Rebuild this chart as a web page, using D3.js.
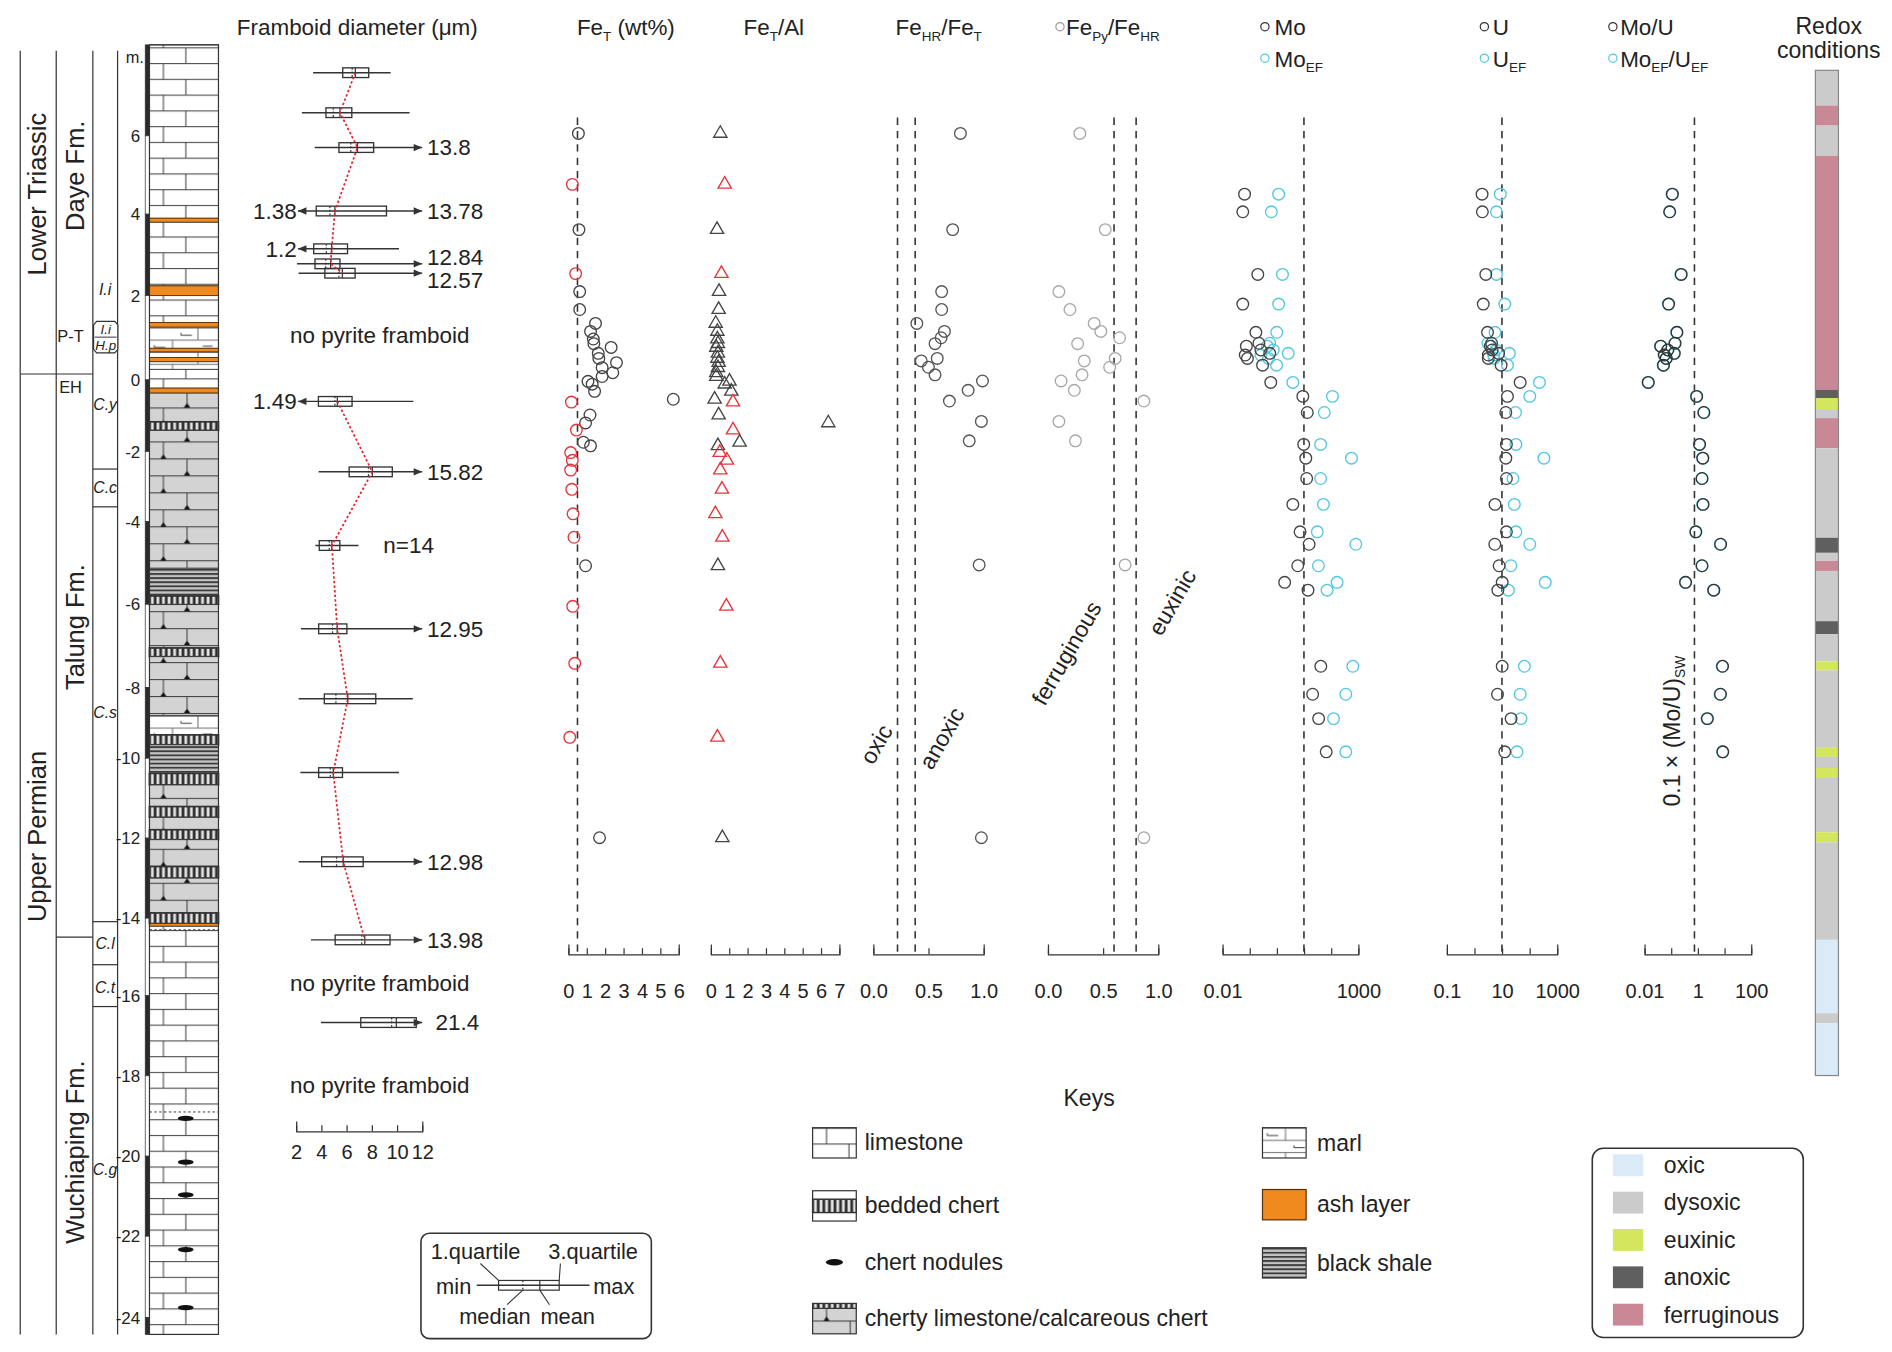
<!DOCTYPE html>
<html>
<head>
<meta charset="utf-8">
<script src="https://cdn.jsdelivr.net/npm/d3@7"></script>
<style>
body { margin: 0; background: #fff; }
svg { display: block; font-family: "Liberation Sans", Arial, sans-serif; }
</style>
</head>
<body>
<svg id="chart" width="1892" height="1352" viewBox="0 0 1560 1115"></svg>
<script>
// ---- depth column ----
var depthStops = [8.32, 6, 4, 2, 0, -2, -4, -6, -8, -10, -12, -14, -16, -18, -20, -22, -24, -24.42];
var depthTicks = [6, 4, 2, 0, -2, -4, -6, -8, -10, -12, -14, -16, -18, -20, -22, -24];

var lithology = [
    [8.32, 3.90, 'limestone'], [3.90, 3.80, 'ash'], [3.80, 2.24, 'limestone'], [2.24, 2.00, 'ash'],
    [2.00, 1.36, 'limestone'], [1.36, 1.25, 'ash'], [1.25, 0.75, 'marl'], [0.75, 0.66, 'ash'],
    [0.66, 0.53, 'marl'], [0.53, 0.43, 'ash'], [0.43, 0.25, 'marl'], [0.25, -0.23, 'limestone'],
    [-0.23, -0.37, 'ash'], [-0.37, -1.17, 'cherty'], [-1.17, -1.41, 'chert'], [-1.41, -5.13, 'cherty'],
    [-5.13, -5.80, 'shale'], [-5.80, -6.01, 'chert'], [-6.01, -7.05, 'cherty'], [-7.05, -7.26, 'chert'],
    [-7.26, -8.80, 'cherty'], [-8.80, -9.34, 'marl'], [-9.34, -9.62, 'chert'], [-9.62, -10.38, 'shale'],
    [-10.38, -10.67, 'chert'], [-10.67, -11.21, 'cherty'], [-11.21, -11.48, 'chert'], [-11.48, -11.79, 'cherty'],
    [-11.79, -12.04, 'chert'], [-12.04, -12.71, 'cherty'], [-12.71, -13.00, 'chert'], [-13.00, -13.87, 'cherty'],
    [-13.87, -14.14, 'chert'], [-14.14, -14.21, 'ash'], [-14.21, -24.42, 'limestone']
];
var noduleDepth = [-19.06, -20.15, -20.97, -22.33, -23.76];
var thinLayerDepth = [-14.30, -18.90];

var eraNames = ['Lower Triassic', 'Upper Permian'];
var eraMid = [4.51, -11.96];
var eraBreak = 0.14;
var fmNames = ['Daye Fm.', 'Talung Fm.', 'Wuchiaping Fm.'];
var fmMid = [4.98, -6.55, -19.9];
var fmBreak = -14.49;
var zoneNames = ['I.i', 'C.y', 'C.c', 'C.s', 'C.l', 'C.t', 'C.g'];
var zoneMid = [2.14, -0.70, -3.03, -8.72, -14.65, -15.80, -20.33];
var zoneBreaks = [-2.50, -3.58, -14.09, -15.20, -16.27];

// ---- framboid diameter (um) ----
var frDepth  = [7.61, 6.59, 5.70, 4.08, 3.15, 2.78, 2.55, -0.60, -2.58, -4.58, -6.59, -8.32, -10.36, -12.59, -14.56, -16.67];
var frMin    = [3.35, 2.46, 3.48, 1.38, 1.2, 2.07, 2.2, 1.49, 3.79, 3.53, 2.39, 2.21, 2.34, 2.21, 3.18, 3.97];
var frQ1     = [5.7, 4.37, 5.4, 3.6, 3.4, 3.5, 4.28, 3.77, 6.21, 3.84, 3.79, 4.24, 3.79, 4.03, 5.1, 7.13];
var frMedian = [6.45, 4.95, 6.34, 4.68, 4.4, 4.35, 5.4, 5.08, 7.74, 4.63, 4.89, 5.16, 4.71, 5.21, 7.21, 9.58];
var frMean   = [6.7, 5.48, 6.87, 5.08, 4.82, 4.74, 5.67, 5.27, 8.05, 4.84, 5.26, 6.1, 4.95, 5.74, 7.45, 9.95];
var frQ3     = [7.76, 6.42, 8.15, 9.17, 6.08, 5.48, 6.68, 6.44, 9.63, 5.47, 6.03, 8.32, 5.68, 7.32, 9.45, 11.53];
var frMax    = [9.5, 11.0, 13.8, 13.78, 10.16, 12.84, 12.57, 11.3, 15.82, 6.95, 12.95, 11.26, 10.16, 12.98, 13.98, 21.4];
var frTrend  = [1, 1, 1, 1, 1, 1, 1, 2, 2, 2, 2, 2, 2, 2, 2, 0];
var noFramboidDepth = [1.07, -15.68, -18.23];

// ---- FeT and FeT/Al ----
var feDepth = [6.06, 4.76, 3.62, 2.54, 2.10, 1.67, 1.34, 1.15, 0.97, 0.86, 0.77, 0.63, 0.51, 0.41, 0.29, 0.17, 0.08, -0.04, -0.12, -0.32,
    -0.54, -0.62, -0.98, -1.20, -1.40, -1.74, -1.84, -2.03, -2.25, -2.53, -3.08, -3.78, -4.38, -5.07, -6.05, -7.42, -9.41, -11.99];
var feT = [0.55, 0.22, 0.58, 0.40, 0.62, 0.62, 1.48, 1.21, 1.36, 1.39, 2.33, 1.63, 1.66, 2.62, 1.84, 2.42, 1.84, 1.07, 1.30, 1.43,
    5.71, 0.17, 1.18, 0.94, 0.44, 0.82, 1.21, 0.13, 0.22, 0.13, 0.19, 0.26, 0.31, 0.94, 0.24, 0.35, 0.08, 1.70];
var feTAl = [0.52, 0.76, 0.34, 0.58, 0.45, 0.43, 0.27, 0.36, 0.36, 0.39, 0.30, 0.39, 0.36, 0.43, 0.39, 0.30, 0.30, 1.02, 0.76, 1.12,
    0.21, 1.21, 0.43, 6.40, 1.21, 1.57, 0.39, 0.49, 0.88, 0.52, 0.61, 0.25, 0.63, 0.39, 0.85, 0.52, 0.36, 0.63];

// ---- iron speciation ----
var ironDepth = [6.06, 3.62, 2.10, 1.67, 1.34, 1.15, 1.00, 0.86, 0.51, 0.45, 0.30, 0.12, -0.03, -0.29, -0.59, -1.16, -1.70, -5.05, -11.99];
var feHR = [0.79, 0.72, 0.62, 0.62, 0.395, 0.645, 0.615, 0.56, 0.58, 0.435, 0.50, 0.56, 0.99, 0.86, 0.69, 0.98, 0.87, 0.96, 0.98];
var fePy = [0.29, 0.52, 0.10, 0.20, 0.42, 0.48, 0.65, 0.27, 0.61, 0.33, 0.56, 0.31, 0.12, 0.24, 0.87, 0.10, 0.25, 0.70, 0.87];

// ---- trace metals ----
var traceDepth = [4.51, 4.06, 2.52, 1.80, 1.13, 0.87, 0.80, 0.71, 0.63, 0.59, 0.51, 0.35, -0.07, -0.46, -0.91, -1.80, -2.19, -2.77,
    -3.51, -4.25, -4.55, -5.07, -5.47, -5.66, -7.49, -8.19, -8.88, -9.82];
var mo = [0.065, 0.056, 0.20, 0.056, 0.17, 0.22, 0.076, 0.26, 0.55, 0.069, 0.083, 0.30, 0.60, 9.1, 13.3, 9.8, 11.7, 12.6,
    3.9, 7.2, 15.5, 5.9, 1.95, 14.1, 41.7, 20.9, 34.7, 66];
var moEF = [1.17, 0.63, 1.62, 1.17, 1.0, 0.55, 0.45, 0.74, 2.63, 0.26, 0.5, 0.98, 3.9, 112, 56, 41, 562, 41,
    52, 31, 813, 34, 166, 71, 631, 347, 123, 347];
var u = [1.9, 1.95, 2.6, 2.1, 3.0, 4.2, 3.8, 4.4, 7.6, 3.2, 3.2, 9.3, 45.7, 15.8, 13.8, 14.5, 13.8, 14.5,
    5.6, 14.5, 5.5, 7.9, 10.2, 7.1, 10.2, 6.9, 21.4, 12.6];
var uEF = [8.7, 6.3, 6.3, 12.6, 5.6, 3.1, 4.0, 6.0, 18.6, 5.0, 5.2, 15.8, 229, 102, 31, 32, 331, 25,
    28, 32, 102, 21, 372, 17, 65, 46, 49, 35];
var moU = [0.112, 0.089, 0.24, 0.081, 0.166, 0.141, 0.041, 0.076, 0.132, 0.056, 0.066, 0.052, 0.014, 0.91, 1.7, 1.17, 1.55, 1.45,
    1.58, 0.85, 7.2, 1.45, 0.35, 4.0, 8.5, 7.1, 2.3, 8.7];
var moUEF = [0.108, 0.086, 0.23, 0.078, 0.16, 0.136, 0.040, 0.073, 0.127, 0.054, 0.064, 0.050, 0.0135, 0.88, 1.64, 1.13, 1.5, 1.4,
    1.52, 0.82, 6.9, 1.4, 0.34, 3.85, 8.2, 6.85, 2.2, 8.4];

// ---- redox bar (percent of bar height, top to bottom) ----
var redoxStart = [0, 3.5, 5.5, 8.5, 31.8, 32.6, 33.7, 34.6, 37.6, 46.5, 48.0, 48.8, 49.8, 54.8, 56.1, 58.8, 59.7,
    67.4, 68.3, 69.4, 70.4, 75.8, 76.8, 86.5, 93.8, 94.8];
var redoxType = ['dysoxic', 'ferruginous', 'dysoxic', 'ferruginous', 'anoxic', 'euxinic', 'dysoxic', 'ferruginous', 'dysoxic',
    'anoxic', 'dysoxic', 'ferruginous', 'dysoxic', 'anoxic', 'dysoxic', 'euxinic', 'dysoxic', 'euxinic', 'dysoxic', 'euxinic',
    'dysoxic', 'euxinic', 'dysoxic', 'oxic', 'dysoxic', 'oxic'];
var redoxNames = ['oxic', 'dysoxic', 'euxinic', 'anoxic', 'ferruginous'];
var redoxColors = ['#dbeaf7', '#cbcbcb', '#d3e65e', '#5f5f5f', '#c88896'];

var keyLeft = ['limestone', 'bedded chert', 'chert nodules', 'cherty limestone/calcareous chert'];
var keyRight = ['marl', 'ash layer', 'black shale'];

var svg = d3.select('#chart');
var ink = '#333', txt = '#222', red = '#e5343a', cyan = '#52c8e0';
var colX = 123.1, colW = 56.9;
var headSize = 18.5, labelSize = 18.5;

svg.append('rect').attr('width', 1560).attr('height', 1115).attr('fill', '#fff');

var y = d3.scaleLinear().domain(depthStops)
    .range([37, 112, 176.6, 243.8, 313.3, 372.4, 430.1, 498.3, 567, 625.3, 691.2, 757.2, 821.2, 887.2, 953.5, 1019.5, 1086.5, 1100.5]);
var redoxColor = d3.scaleOrdinal(redoxNames, redoxColors);

addPatterns();
drawColumn();
drawFramboids();
drawGeochem();
drawRedox();
drawKeys();

function pat(defs, id, w, h, bg) {
    var p = defs.append('pattern').attr('id', id).attr('patternUnits', 'userSpaceOnUse')
        .attr('x', colX).attr('y', 0).attr('width', w).attr('height', h);
    p.append('rect').attr('width', w).attr('height', h).attr('fill', bg);
    return p.append('g').attr('stroke', ink).attr('stroke-width', 0.8).attr('fill', 'none');
}

function addPatterns() {
    var defs = svg.append('defs');
    var g = pat(defs, 'limestone', colW, 26, '#fff');
    g.append('path').attr('d', 'M0,0.5H57M0,13.5H57M11.5,0.5V13.5M30,13.5V26');

    g = pat(defs, 'cherty', colW, 28, '#d3d3d3');
    g.append('path').attr('d', 'M0,0.5H57M0,14.5H57M11.5,0.5V14.5M31,14.5V28');
    g.append('path').attr('d', 'M8.9,14.5L11.5,10.8L14.1,14.5ZM28.4,28L31,24.3L33.6,28Z').attr('fill', '#111').attr('stroke', 'none');

    g = pat(defs, 'chert', 4.6, 10, '#2e2e2e');
    g.append('rect').attr('x', 1.2).attr('y', -1).attr('width', 2.3).attr('height', 12).attr('fill', '#e4e4e4').attr('stroke', 'none');

    g = pat(defs, 'shale', 10, 3.4, '#c4c4c4');
    g.append('rect').attr('width', 10).attr('height', 1.5).attr('fill', '#3c3c3c').attr('stroke', 'none');

    g = pat(defs, 'marl', colW, 20, '#fff');
    g.append('path').attr('d', 'M0,0.5H57M0,10.5H57M19,0.5V10.5M40,10.5V20').attr('stroke', '#666');
    g.append('path').attr('d', 'M4,6.5H13M4,6.5V4.6M26,16.5H35M26,16.5V14.6M44,5.5H52');
}

function lithFill(t) {
    return t === 'ash' ? '#f08a1e' : 'url(#' + t + ')';
}

function drawColumn() {
    var g = svg.append('g');
    // unit columns
    [16.5, 46.2, 76.4, 96.8].forEach(function (x) {
        g.append('line').attr('x1', x).attr('x2', x).attr('y1', 41.8).attr('y2', 1100.5).attr('stroke', ink).attr('stroke-width', 1);
    });
    g.append('line').attr('x1', 16.5).attr('x2', 76.4).attr('y1', y(eraBreak)).attr('y2', y(eraBreak)).attr('stroke', ink);
    g.append('line').attr('x1', 46.2).attr('x2', 76.4).attr('y1', y(fmBreak)).attr('y2', y(fmBreak)).attr('stroke', ink);
    zoneBreaks.forEach(function (d) {
        g.append('line').attr('x1', 76.4).attr('x2', 96.8).attr('y1', y(d)).attr('y2', y(d)).attr('stroke', ink);
    });

    eraNames.forEach(function (n, i) {
        g.append('text').attr('transform', 'translate(38,' + y(eraMid[i]) + ') rotate(-90)')
            .attr('text-anchor', 'middle').attr('font-size', 21).attr('fill', txt).text(n);
    });
    fmNames.forEach(function (n, i) {
        g.append('text').attr('transform', 'translate(69.5,' + y(fmMid[i]) + ') rotate(-90)')
            .attr('text-anchor', 'middle').attr('font-size', 21).attr('fill', txt).text(n);
    });
    g.append('text').attr('x', 58).attr('y', y(1.04) + 5).attr('text-anchor', 'middle').attr('font-size', 13.5).attr('fill', txt).text('P-T');
    g.append('text').attr('x', 58).attr('y', y(-0.19) + 5).attr('text-anchor', 'middle').attr('font-size', 13.5).attr('fill', txt).text('EH');

    zoneNames.forEach(function (n, i) {
        g.append('text').attr('x', 86.5).attr('y', y(zoneMid[i]) + 4.5).attr('text-anchor', 'middle')
            .attr('font-size', 13).attr('font-style', 'italic').attr('fill', txt).text(n);
    });
    // I.i / H.p transition box
    var b0 = y(1.39), b1 = y(0.64);
    g.append('path').attr('d', 'M79.5,' + b0 + 'H94.5L97,' + (b0 + 3) + 'V' + (b1 - 3) + 'L94.5,' + b1 + 'H79.5L77,' + (b1 - 3) + 'V' + (b0 + 3) + 'Z')
        .attr('fill', '#fff').attr('stroke', ink);
    g.append('line').attr('x1', 78).attr('x2', 96).attr('y1', (b0 + b1) / 2).attr('y2', (b0 + b1) / 2).attr('stroke', ink).attr('stroke-width', 0.8);
    g.append('text').attr('x', 87).attr('y', b0 + 10.5).attr('text-anchor', 'middle').attr('font-size', 11).attr('font-style', 'italic').attr('fill', txt).text('I.i');
    g.append('text').attr('x', 87).attr('y', b1 - 2.5).attr('text-anchor', 'middle').attr('font-size', 11).attr('font-style', 'italic').attr('fill', txt).text('H.p');

    // depth ticks
    g.append('text').attr('x', 111).attr('y', 52).attr('text-anchor', 'middle').attr('font-size', 13.5).attr('fill', txt).text('m.');
    g.selectAll('.dl').data(depthTicks).enter().append('text')
        .attr('x', 115.5).attr('y', function (d) { return y(d) + 5; })
        .attr('text-anchor', 'end').attr('font-size', 14).attr('fill', txt).text(function (d) { return d; });
    // black / white scale bar
    g.selectAll('.bar').data(depthStops.slice(0, -1)).enter().append('rect')
        .attr('x', 119.6).attr('width', 3.5)
        .attr('y', function (d) { return y(d); })
        .attr('height', function (d, i) { return y(depthStops[i + 1]) - y(d); })
        .attr('fill', function (d, i) { return i % 2 === 0 ? '#2a2a2a' : '#fff'; })
        .attr('stroke', ink).attr('stroke-width', 0.6);

    // lithology
    g.selectAll('.lith').data(lithology).enter().append('rect')
        .attr('x', colX).attr('width', colW)
        .attr('y', function (d) { return y(d[0]); })
        .attr('height', function (d) { return y(d[1]) - y(d[0]); })
        .attr('fill', function (d) { return lithFill(d[2]); })
        .attr('stroke', function (d) { return d[2] === 'ash' ? '#5a3000' : ink; })
        .attr('stroke-width', function (d) { return d[2] === 'chert' ? 1.4 : 0.7; });
    thinLayerDepth.forEach(function (d) {
        g.append('line').attr('x1', colX).attr('x2', colX + colW).attr('y1', y(d)).attr('y2', y(d))
            .attr('stroke', ink).attr('stroke-width', 0.8).attr('stroke-dasharray', '2,2');
    });
    g.selectAll('.nod').data(noduleDepth).enter().append('ellipse')
        .attr('cx', 153).attr('cy', function (d) { return y(d); }).attr('rx', 6.5).attr('ry', 2.2).attr('fill', '#111');
    g.append('rect').attr('x', colX).attr('y', y(depthStops[0])).attr('width', colW)
        .attr('height', y(-24.42) - y(depthStops[0])).attr('fill', 'none').attr('stroke', ink).attr('stroke-width', 1);
}

function axisAt(scale, yy, ticks, labels, fmt, pad) {
    var g = svg.append('g').attr('transform', 'translate(0,' + yy + ')')
        .call(d3.axisBottom(scale).tickValues(ticks).tickSizeInner(-5).tickSizeOuter(-8).tickPadding(pad)
            .tickFormat(function (d) { return labels.indexOf(d) >= 0 ? fmt(d) : ''; }));
    g.selectAll('path,line').attr('stroke', ink);
    g.selectAll('text').attr('font-size', 16.5).attr('font-family', '"Liberation Sans", Arial, sans-serif').attr('fill', txt);
    return g;
}

// spread label positions that would touch (e.g. 12.84 / 12.57)
function spread(ys, gap) {
    var out = ys.slice();
    for (var i = 1; i < out.length; i++) {
        if (out[i] == null || out[i - 1] == null) continue;
        var d = out[i] - out[i - 1];
        if (d < gap) {
            var s = (gap - d) / 2;
            out[i - 1] -= s;
            out[i] += s;
        }
    }
    return out;
}

function drawFramboids() {
    var x = d3.scaleLinear([2, 12], [244, 348]);
    var g = svg.append('g');
    g.append('text').attr('x', 294.5).attr('y', 29).attr('text-anchor', 'middle').attr('font-size', headSize).attr('fill', txt)
        .text('Framboid diameter (\u03bcm)');

    var rightY = spread(frDepth.map(function (d, i) { return frMax[i] > 12 ? y(d) : null; }), 19);

    frDepth.forEach(function (d, i) {
        var cy = y(d);
        var lo = frMin[i] < 2 ? x(2.15) : x(frMin[i]);
        var hi = frMax[i] > 12 ? x(12) : x(frMax[i]);
        g.append('line').attr('x1', lo).attr('x2', hi).attr('y1', cy).attr('y2', cy).attr('stroke', ink).attr('stroke-width', 1.2);
        g.append('rect').attr('x', x(frQ1[i])).attr('y', cy - 4).attr('width', x(frQ3[i]) - x(frQ1[i])).attr('height', 8)
            .attr('fill', 'none').attr('stroke', ink).attr('stroke-width', 1.1);
        g.append('line').attr('x1', x(frMedian[i])).attr('x2', x(frMedian[i])).attr('y1', cy - 4).attr('y2', cy + 4)
            .attr('stroke', ink).attr('stroke-dasharray', '1.5,1.5');
        g.append('line').attr('x1', x(frMean[i])).attr('x2', x(frMean[i])).attr('y1', cy - 4).attr('y2', cy + 4).attr('stroke', ink);
        if (frMax[i] > 12) {
            g.append('path').attr('d', 'M' + hi + ',' + cy + 'l-7,-3v6z').attr('fill', ink);
            g.append('text').attr('x', hi + (frMax[i] > 20 ? 11 : 4)).attr('y', rightY[i] + 6.5)
                .attr('font-size', labelSize).attr('fill', txt).text(frMax[i]);
        }
        if (frMin[i] < 2) {
            g.append('path').attr('d', 'M' + lo + ',' + cy + 'l7,-3v6z').attr('fill', ink);
            g.append('text').attr('x', lo - 1).attr('y', cy + 6.5).attr('text-anchor', 'end').attr('font-size', labelSize).attr('fill', txt).text(frMin[i]);
        }
    });

    // mean trend lines
    [1, 2].forEach(function (s) {
        var pts = frDepth.map(function (d, i) { return [x(frMean[i]), y(d), frTrend[i]]; }).filter(function (p) { return p[2] === s; });
        g.append('path').attr('d', d3.line()(pts.map(function (p) { return [p[0], p[1]]; })))
            .attr('fill', 'none').attr('stroke', '#e3232b').attr('stroke-width', 1.4).attr('stroke-dasharray', '2,1.8');
    });

    g.append('text').attr('x', 316).attr('y', y(-4.58) + 6.5).attr('font-size', labelSize).attr('fill', txt).text('n=14');
    noFramboidDepth.forEach(function (d) {
        g.append('text').attr('x', 313).attr('y', y(d) + 6.5).attr('text-anchor', 'middle').attr('font-size', labelSize).attr('fill', txt)
            .text('no pyrite framboid');
    });
    axisAt(x, 933, [2, 4, 6, 8, 10, 12], [2, 4, 6, 8, 10, 12], String, 11);

    // legend for box plot
    var L = svg.append('g').attr('font-size', 18).attr('fill', txt);
    L.append('rect').attr('x', 347).attr('y', 1017).attr('width', 190).attr('height', 87).attr('rx', 7)
        .attr('fill', 'none').attr('stroke', ink).attr('stroke-width', 1.3);
    L.append('text').attr('x', 392).attr('y', 1038).attr('text-anchor', 'middle').text('1.quartile');
    L.append('text').attr('x', 489).attr('y', 1038).attr('text-anchor', 'middle').text('3.quartile');
    L.append('text').attr('x', 374).attr('y', 1067).attr('text-anchor', 'middle').text('min');
    L.append('text').attr('x', 506).attr('y', 1067).attr('text-anchor', 'middle').text('max');
    L.append('text').attr('x', 408).attr('y', 1092).attr('text-anchor', 'middle').text('median');
    L.append('text').attr('x', 468).attr('y', 1092).attr('text-anchor', 'middle').text('mean');
    var lg = L.append('g').attr('stroke', ink).attr('fill', 'none');
    lg.append('line').attr('x1', 393).attr('x2', 486).attr('y1', 1060).attr('y2', 1060).attr('stroke-width', 1.2);
    lg.append('rect').attr('x', 411).attr('y', 1056).attr('width', 50).attr('height', 8);
    lg.append('line').attr('x1', 431).attr('x2', 431).attr('y1', 1056).attr('y2', 1064).attr('stroke-dasharray', '1.5,1.5');
    lg.append('line').attr('x1', 445).attr('x2', 445).attr('y1', 1056).attr('y2', 1064);
    lg.append('path').attr('d', 'M396,1042L411,1056M462,1042L461,1056M418,1076L431,1064M453,1076L445,1064').attr('stroke-width', 0.9);
}

function richText(g, x, yy, parts, anchor, size) {
    var t = g.append('text').attr('x', x).attr('y', yy).attr('text-anchor', anchor).attr('font-size', size).attr('fill', txt);
    var lastSub = false;
    parts.forEach(function (p) {
        var sub = !!p[1];
        var ts = t.append('tspan').text(p[0]);
        if (sub) ts.attr('font-size', size * 0.6);
        if (sub && !lastSub) ts.attr('dy', 4.5);
        if (!sub && lastSub) ts.attr('dy', -4.5);
        lastSub = sub;
    });
    return t;
}

function refLine(x) {
    svg.append('line').attr('x1', x).attr('x2', x).attr('y1', 97).attr('y2', 787)
        .attr('stroke', ink).attr('stroke-width', 1.3).attr('stroke-dasharray', '6,5');
}

function circles(depths, vals, x, color) {
    svg.append('g').selectAll('circle').data(vals).enter().append('circle')
        .attr('cx', function (d) { return x(d); })
        .attr('cy', function (d, i) { return y(depths[i]); })
        .attr('r', 4.8).attr('fill', 'none').attr('stroke-width', 1.1)
        .attr('stroke', function (d, i) { return typeof color === 'function' ? color(i) : color; });
}

function headCircle(x, yy, color) {
    svg.append('circle').attr('cx', x).attr('cy', yy).attr('r', 3.4).attr('fill', 'none').attr('stroke', color).attr('stroke-width', 1);
}

function drawGeochem() {
    var xFeT = d3.scaleLinear([0, 6], [468.5, 559.5]);
    var xFeTAl = d3.scaleLinear([0, 7], [586, 692]);
    var xFeHR = d3.scaleLinear([0, 1], [720, 811]);
    var xFePy = d3.scaleLinear([0, 1], [864, 955]);
    var xMo = d3.scaleLog([0.01, 1000], [1008, 1120]);
    var xU = d3.scaleLog([0.1, 1000], [1193, 1284]);
    var xMoU = d3.scaleLog([0.01, 100], [1356, 1444]);
    var g = svg.append('g');

    // headers
    richText(g, 516, 29, [['Fe'], ['T', 1], [' (wt%)']], 'middle', headSize);
    richText(g, 638, 29, [['Fe'], ['T', 1], ['/Al']], 'middle', headSize);
    richText(g, 774, 29, [['Fe'], ['HR', 1], ['/Fe'], ['T', 1]], 'middle', headSize);
    headCircle(874, 22, '#999');
    richText(g, 879, 29, [['Fe'], ['Py', 1], ['/Fe'], ['HR', 1]], 'start', headSize);
    headCircle(1043, 22, ink);
    richText(g, 1051, 29, [['Mo']], 'start', headSize);
    headCircle(1043, 48, cyan);
    richText(g, 1051, 55, [['Mo'], ['EF', 1]], 'start', headSize);
    headCircle(1224, 22, ink);
    richText(g, 1231, 29, [['U']], 'start', headSize);
    headCircle(1224, 48, cyan);
    richText(g, 1231, 55, [['U'], ['EF', 1]], 'start', headSize);
    headCircle(1330, 22, ink);
    richText(g, 1336, 29, [['Mo/U']], 'start', headSize);
    headCircle(1330, 48, cyan);
    richText(g, 1336, 55, [['Mo'], ['EF', 1], ['/U'], ['EF', 1]], 'start', headSize);
    g.append('text').attr('x', 1508).attr('y', 28).attr('text-anchor', 'middle').attr('font-size', 19).attr('fill', txt).text('Redox');
    g.append('text').attr('x', 1508).attr('y', 48).attr('text-anchor', 'middle').attr('font-size', 19).attr('fill', txt).text('conditions');

    // threshold lines
    refLine(xFeT(0.5));
    refLine(xFeHR(0.22));
    refLine(xFeHR(0.38));
    refLine(xFePy(0.6));
    refLine(xFePy(0.8));
    refLine(xMo(10));
    refLine(xU(10));
    refLine(xMoU(0.75));

    [['oxic', 723, 614], ['anoxic', 777, 609], ['ferruginous', 880, 539], ['euxinic', 967, 497]].forEach(function (l) {
        g.append('text').attr('transform', 'translate(' + l[1] + ',' + l[2] + ') rotate(-60)').attr('text-anchor', 'middle')
            .attr('dy', 6).attr('font-size', 19).attr('fill', txt).text(l[0]);
    });
    richText(g, 0, 0, [['0.1 \u00d7 (Mo/U)'], ['SW', 1]], 'middle', 19)
        .attr('transform', 'translate(1385,603) rotate(-90)');

    // points
    var feColor = function (i) { return feT[i] < 0.5 ? red : '#444'; };
    circles(feDepth, feT, xFeT, feColor);
    svg.append('g').selectAll('path').data(feTAl).enter().append('path')
        .attr('d', d3.symbol(d3.symbolTriangle, 52))
        .attr('transform', function (d, i) { return 'translate(' + xFeTAl(d) + ',' + y(feDepth[i]) + ')'; })
        .attr('fill', 'none').attr('stroke-width', 1.1).attr('stroke', function (d, i) { return feColor(i); });
    circles(ironDepth, feHR, xFeHR, '#555');
    circles(ironDepth, fePy, xFePy, '#a8a8a8');
    circles(traceDepth, moEF, xMo, cyan);
    circles(traceDepth, mo, xMo, '#444');
    circles(traceDepth, uEF, xU, cyan);
    circles(traceDepth, u, xU, '#444');
    circles(traceDepth, moUEF, xMoU, cyan);
    circles(traceDepth, moU, xMoU, '#333');

    // bottom axes
    var f1 = d3.format('.1f');
    axisAt(xFeT, 787, [0, 1, 2, 3, 4, 5, 6], [0, 1, 2, 3, 4, 5, 6], String, 24);
    axisAt(xFeTAl, 787, [0, 1, 2, 3, 4, 5, 6, 7], [0, 1, 2, 3, 4, 5, 6, 7], String, 24);
    axisAt(xFeHR, 787, [0, 0.5, 1], [0, 0.5, 1], f1, 24);
    axisAt(xFePy, 787, [0, 0.5, 1], [0, 0.5, 1], f1, 24);
    axisAt(xMo, 787, [0.01, 0.1, 1, 10, 100, 1000], [0.01, 1000], String, 24);
    axisAt(xU, 787, [0.1, 1, 10, 100, 1000], [0.1, 10, 1000], String, 24);
    axisAt(xMoU, 787, [0.01, 0.1, 1, 10, 100], [0.01, 1, 100], String, 24);
}

function drawRedox() {
    var ry = d3.scaleLinear([0, 100], [58, 887]);
    var g = svg.append('g');
    g.selectAll('rect').data(redoxStart).enter().append('rect')
        .attr('x', 1497).attr('width', 19)
        .attr('y', function (d) { return ry(d); })
        .attr('height', function (d, i) { return ry(i + 1 < redoxStart.length ? redoxStart[i + 1] : 100) - ry(d); })
        .attr('fill', function (d, i) { return redoxColor(redoxType[i]); });
    g.append('rect').attr('x', 1497).attr('y', ry(0)).attr('width', 19).attr('height', ry(100) - ry(0))
        .attr('fill', 'none').attr('stroke', '#888').attr('stroke-width', 1);

    var L = svg.append('g');
    L.append('rect').attr('x', 1313).attr('y', 947).attr('width', 174).attr('height', 156).attr('rx', 9)
        .attr('fill', 'none').attr('stroke', ink).attr('stroke-width', 1.3);
    redoxNames.forEach(function (n, i) {
        var cy = 961 + i * 30.8;
        L.append('rect').attr('x', 1330).attr('y', cy - 9).attr('width', 25).attr('height', 18).attr('fill', redoxColor(n));
        L.append('text').attr('x', 1372).attr('y', cy + 6.5).attr('font-size', 19).attr('fill', txt).text(n);
    });
}

function keyIcon(tx, ty, fill, stroke) {
    // icons reuse the column patterns, so shift them into the column's pattern space
    var g = svg.append('g').attr('transform', 'translate(' + (tx - colX) + ',' + ty + ')');
    g.append('rect').attr('x', colX).attr('y', 0).attr('width', 36).attr('height', 25).attr('fill', fill)
        .attr('stroke', stroke || ink).attr('stroke-width', 1);
    return g;
}

function drawKeys() {
    var g = svg.append('g').attr('font-size', 19).attr('fill', txt);
    g.append('text').attr('x', 898).attr('y', 912).attr('text-anchor', 'middle').attr('font-size', 19).text('Keys');
    var leftY = [942, 994, 1041, 1087];
    keyLeft.forEach(function (n, i) {
        g.append('text').attr('x', 713).attr('y', leftY[i] + 6.5).text(n);
    });
    var rightY = [943, 993, 1042];
    keyRight.forEach(function (n, i) {
        g.append('text').attr('x', 1086).attr('y', rightY[i] + 6.5).text(n);
    });

    keyIcon(670, 930, 'url(#limestone)');
    var bc = keyIcon(670, 982, '#fff');
    bc.append('rect').attr('x', colX).attr('y', 7).attr('width', 36).attr('height', 11).attr('fill', 'url(#chert)')
        .attr('stroke', ink).attr('stroke-width', 1.2);
    svg.append('ellipse').attr('cx', 688).attr('cy', 1041).attr('rx', 7).attr('ry', 2.6).attr('fill', '#111');
    var cl = keyIcon(670, 1075, 'url(#cherty)');
    cl.append('rect').attr('x', colX).attr('y', 0).attr('width', 36).attr('height', 4).attr('fill', 'url(#chert)').attr('stroke', ink);

    keyIcon(1041, 930, 'url(#marl)');
    keyIcon(1041, 981, '#f08a1e', '#5a3000');
    keyIcon(1041, 1029, 'url(#shale)');
}
</script>
</body>
</html>
